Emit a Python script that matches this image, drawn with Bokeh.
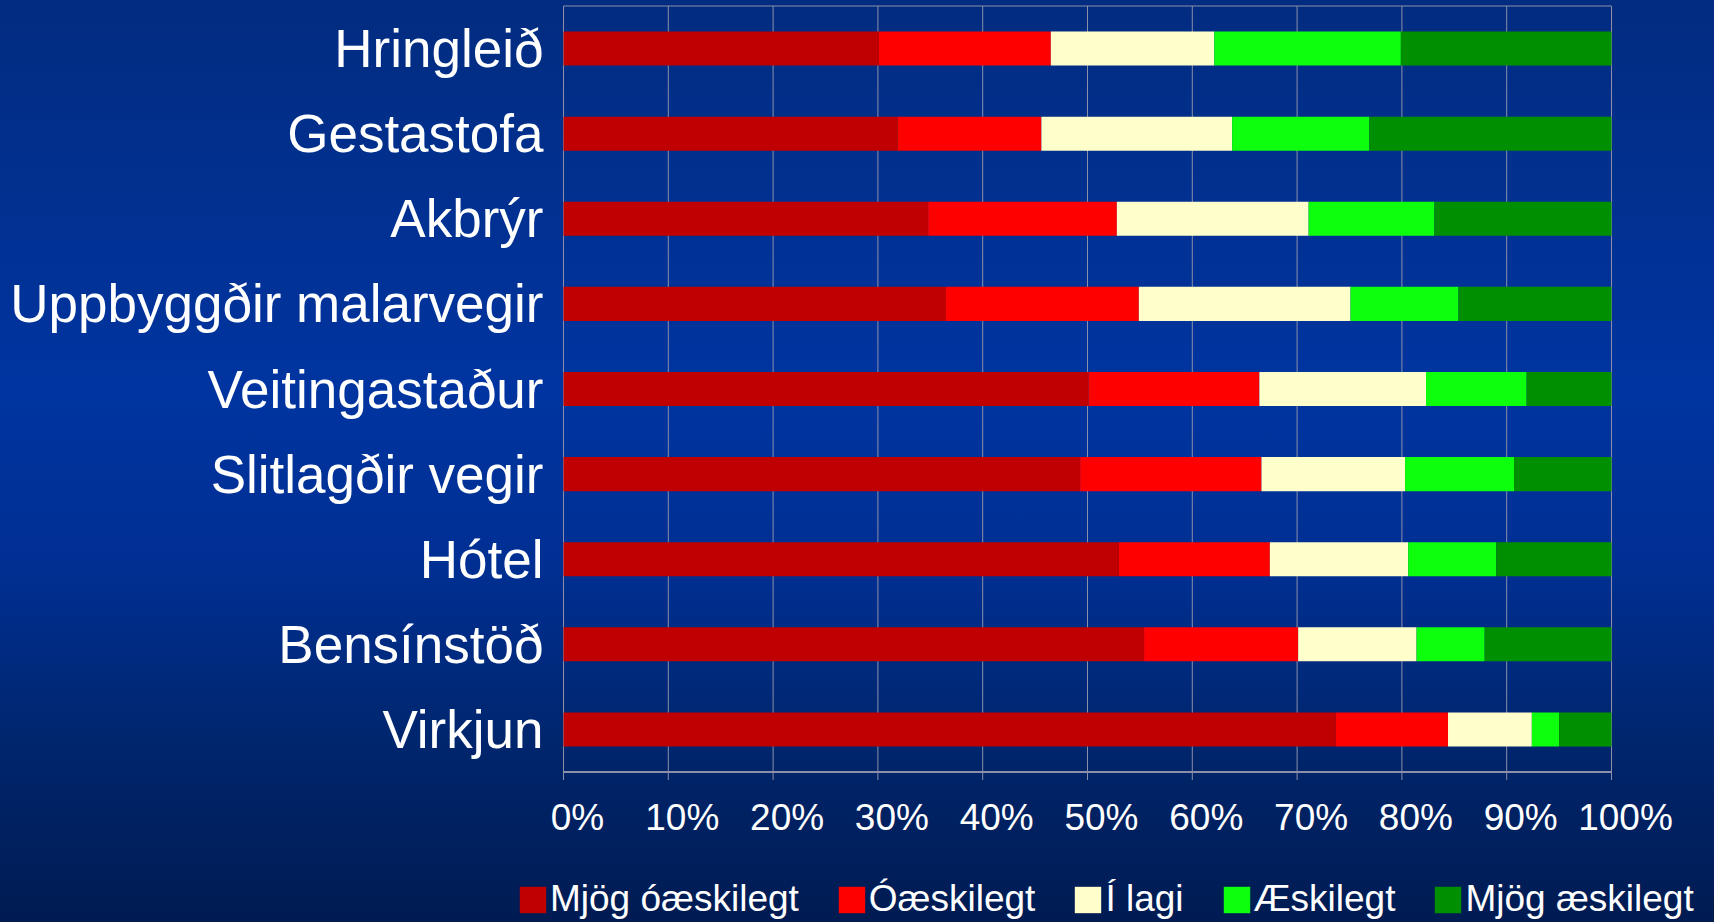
import math
from bokeh.plotting import figure
from bokeh.models import Range1d, LabelSet, ColumnDataSource
from bokeh.core.properties import value
from bokeh.embed import file_html
from bokeh.resources import INLINE

# ---- data (top to bottom as shown) ----
categories = ["Hringleið", "Gestastofa", "Akbrýr", "Uppbyggðir malarvegir",
              "Veitingastaður", "Slitlagðir vegir", "Hótel", "Bensínstöð", "Virkjun"]
mjog_oaeskilegt = [30.1, 31.9, 34.8, 36.5, 50.1, 49.3, 53.0, 55.4, 73.7]
oaeskilegt      = [16.4, 13.7, 18.0, 18.4, 16.3, 17.3, 14.4, 14.7, 10.7]
i_lagi          = [15.6, 18.2, 18.3, 20.2, 15.9, 13.7, 13.2, 11.3, 8.0]
aeskilegt       = [17.8, 13.1, 12.0, 10.3, 9.6, 10.4, 8.4, 6.5, 2.6]
mjog_aeskilegt  = [20.1, 23.1, 16.9, 14.6, 8.1, 9.3, 11.0, 12.1, 5.0]
series_labels = ["Mjög óæskilegt", "Óæskilegt", "Í lagi", "Æskilegt", "Mjög æskilegt"]
colors = ["#C00000", "#FF0000", "#FFFFCC", "#0DFF0D", "#008F00"]
x_ticks = [0, 0.1, 0.2, 0.3, 0.4, 0.5, 0.6, 0.7, 0.8, 0.9, 1.0]
x_tick_labels = ["0%", "10%", "20%", "30%", "40%", "50%", "60%", "70%", "80%", "90%", "100%"]

# ---- layout (pixels) ----
W, H = 1714, 922
PLOT_LEFT, PLOT_RIGHT = 563, 1611      # x = 0 and x = 1
PLOT_TOP, PLOT_BOTTOM = 5.5, 771.5     # top of first band, axis line
n = len(categories)
xs = PLOT_RIGHT - PLOT_LEFT
ys = (PLOT_BOTTOM - PLOT_TOP) / n

x_range = Range1d(-PLOT_LEFT / xs, (W - PLOT_LEFT) / xs)
y_range = Range1d(-(H - PLOT_BOTTOM) / ys, n + PLOT_TOP / ys)

keys = ["s0", "s1", "s2", "s3", "s4"]
series = [mjog_oaeskilegt, oaeskilegt, i_lagi, aeskilegt, mjog_aeskilegt]
ypos = [n - 0.5 - i for i in range(n)]
data = {"cat": categories, "y": ypos}
for k, s in zip(keys, series):
    data[k] = [v / 100.0 for v in s]
src = ColumnDataSource(data)

FONT = "Liberation Sans"
GRID = "#8C8FA8"

p = figure(x_range=x_range, y_range=y_range,
           width=W, height=H, frame_width=W, frame_height=H,
           min_border=0, x_axis_type=None, y_axis_type=None,
           output_backend="svg", toolbar_location=None)
p.background_fill_alpha = 0
p.border_fill_alpha = 0
p.outline_line_color = None

# grid lines, frame top, left axis line
p.segment(x0=x_ticks, y0=[0] * len(x_ticks), x1=x_ticks, y1=[n] * len(x_ticks),
          line_color=GRID, line_width=1)
p.segment(x0=[0], y0=[n], x1=[1], y1=[n], line_color=GRID, line_width=1)
p.segment(x0=[0], y0=[0], x1=[0], y1=[n], line_color=GRID, line_width=1)

p.hbar_stack(keys, y="y", height=0.4, source=src, color=colors,
             line_color=None, legend_label=series_labels)

# x axis line and ticks
p.segment(x0=[0], y0=[0], x1=[1], y1=[0], line_color=GRID, line_width=2)
p.ray(x=x_ticks, y=[0] * len(x_ticks), length=8, length_units="screen",
      angle=-math.pi / 2, line_color=GRID, line_width=1)

# x tick labels (slightly right of ticks, as in reference)
tick_src = ColumnDataSource(dict(x=x_ticks, y=[0] * len(x_ticks), t=x_tick_labels))
p.add_layout(LabelSet(x="x", y="y", text="t", source=tick_src,
                      x_offset=14, y_offset=-25,
                      text_align="center", text_baseline="top",
                      text_font=value(FONT), text_font_size=value("37px"),
                      text_color="white"))

# category labels
p.add_layout(LabelSet(x=0, y="y", text="cat", source=src,
                      x_offset=-20, y_offset=0,
                      text_align="right", text_baseline="middle",
                      text_font=value(FONT), text_font_size=value("53px"),
                      text_color="white"))

lg = p.legend[0]
lg.orientation = "horizontal"
lg.location = (516, 2)
lg.glyph_width = 33
lg.glyph_height = 33
lg.label_standoff = 1
lg.spacing = 36
lg.padding = 0
lg.margin = 0
lg.label_text_font = FONT
lg.label_text_font_size = "37px"
lg.label_text_color = "white"
lg.background_fill_alpha = 0
lg.border_line_alpha = 0

html = file_html(p, INLINE)
css = ("<style>html,body{background:linear-gradient(to bottom,"
       "#022C80 0%,#0034A0 42%,#002F92 62%,#00266E 80%,#001B52 100%);}</style></head>")
html = html.replace("</head>", css, 1)
open("out.html", "w").write(html)
